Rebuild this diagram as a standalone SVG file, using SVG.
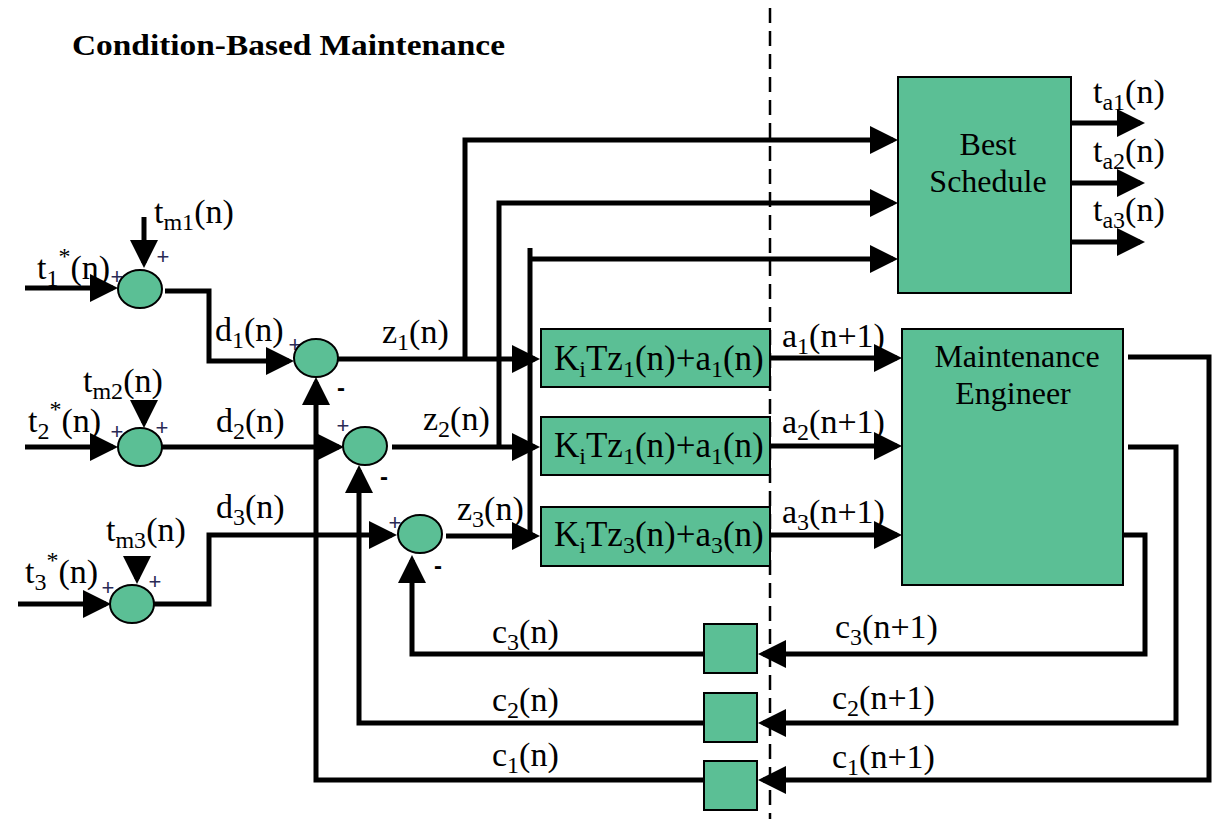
<svg xmlns="http://www.w3.org/2000/svg" width="1220" height="819" viewBox="0 0 1220 819">
<style>
.w{fill:none;stroke:#000;stroke-width:5;stroke-linejoin:miter}
.a{marker-end:url(#ah)}
.n{fill:#5bbf95;stroke:#000;stroke-width:2}
.t{font-family:'Liberation Serif','Times New Roman','DejaVu Serif',serif;font-size:34px;fill:#000}
.bt{font-family:'Liberation Serif','Times New Roman','DejaVu Serif',serif;font-size:35px;fill:#000}
.nt{font-family:'Liberation Serif','Times New Roman','DejaVu Serif',serif;font-size:32px;fill:#000;text-anchor:middle}
.s{font-size:24px}
.p{font-family:'Liberation Sans',sans-serif;font-size:22px;fill:#2a2a55;text-anchor:middle}
.m{font-family:'Liberation Sans',sans-serif;font-size:24px;font-weight:bold;fill:#000;text-anchor:middle}
</style>
<defs>
<marker id="ah" viewBox="0 0 28 28" markerUnits="userSpaceOnUse" markerWidth="28" markerHeight="28" refX="23" refY="14" orient="auto">
<path d="M0,0 L28,14 L0,28 Z" fill="#000"/>
</marker>
</defs>
<rect width="1220" height="819" fill="#fff"/>
<text id="title" x="72" y="55" style="font-family:'Liberation Serif','Times New Roman','DejaVu Serif',serif" font-size="30" font-weight="bold" textLength="433" lengthAdjust="spacingAndGlyphs">Condition-Based Maintenance</text>

<g id="connectors">
<path class="w a" d="M25,288 H113"/>
<path class="w a" d="M144,217 V263"/>
<path class="w a" d="M25,447 H113"/>
<path class="w a" d="M144,401 V423"/>
<path class="w a" d="M137,557 V579"/>
<path class="w a" d="M18,604 H106"/>
<path class="w a" d="M165,291 H209 V361 H289"/>
<path class="w a" d="M162,447 H339"/>
<path class="w a" d="M154,604 H209 V535 H392"/>
<path class="w a" d="M338,359 H535"/>
<path class="w a" d="M392,447 H535"/>
<path class="w a" d="M446,536 H535"/>
<path class="w a" d="M465,360 V140 H893"/>
<path class="w a" d="M499,447 V203 H893"/>
<path class="w" d="M530,537 V248"/>
<path class="w a" d="M530,259 H893"/>
<path class="w a" d="M770,358 H897"/>
<path class="w a" d="M770,446 H897"/>
<path class="w a" d="M770,535 H897"/>
<path class="w a" d="M1071,123 H1140"/>
<path class="w a" d="M1071,183 H1140"/>
<path class="w a" d="M1071,242 H1140"/>
<path class="w a" d="M1128,357 H1209 V780 H763"/>
<path class="w a" d="M1128,447 H1176 V723 H763"/>
<path class="w a" d="M1123,535 H1145 V654 H763"/>
<path class="w a" d="M704,654 H412 V560"/>
<path class="w a" d="M704,723 H359 V470"/>
<path class="w a" d="M704,780 H316 V382"/>
<path d="M770,8 V819" fill="none" stroke="#000" stroke-width="2.5" stroke-dasharray="15 8"/>

<text class="t" x="154" y="223">t<tspan class="s" dy="7">m1</tspan><tspan dy="-7">(n)</tspan></text>
<text class="t" x="37" y="279">t<tspan class="s" dy="7">1</tspan><tspan class="s" dy="-22">*</tspan><tspan dy="15">(n)</tspan></text>
<text class="t" x="215" y="341">d<tspan class="s" dy="7">1</tspan><tspan dy="-7">(n)</tspan></text>
<text class="t" x="83" y="392">t<tspan class="s" dy="7">m2</tspan><tspan dy="-7">(n)</tspan></text>
<text class="t" x="28" y="432">t<tspan class="s" dy="7">2</tspan><tspan class="s" dy="-22">*</tspan><tspan dy="15">(n)</tspan></text>
<text class="t" x="216" y="432">d<tspan class="s" dy="7">2</tspan><tspan dy="-7">(n)</tspan></text>
<text class="t" x="106" y="541">t<tspan class="s" dy="7">m3</tspan><tspan dy="-7">(n)</tspan></text>
<text class="t" x="216" y="518">d<tspan class="s" dy="7">3</tspan><tspan dy="-7">(n)</tspan></text>
<text class="t" x="25" y="583">t<tspan class="s" dy="7">3</tspan><tspan class="s" dy="-22">*</tspan><tspan dy="15">(n)</tspan></text>
<text class="t" x="382" y="343">z<tspan class="s" dy="7">1</tspan><tspan dy="-7">(n)</tspan></text>
<text class="t" x="423" y="430">z<tspan class="s" dy="7">2</tspan><tspan dy="-7">(n)</tspan></text>
<text class="t" x="457" y="520">z<tspan class="s" dy="7">3</tspan><tspan dy="-7">(n)</tspan></text>
<text class="t" x="782" y="347">a<tspan class="s" dy="7">1</tspan><tspan dy="-7">(n+1)</tspan></text>
<text class="t" x="782" y="433">a<tspan class="s" dy="7">2</tspan><tspan dy="-7">(n+1)</tspan></text>
<text class="t" x="782" y="523">a<tspan class="s" dy="7">3</tspan><tspan dy="-7">(n+1)</tspan></text>
<text class="t" x="1093" y="103">t<tspan class="s" dy="7">a1</tspan><tspan dy="-7">(n)</tspan></text>
<text class="t" x="1093" y="162">t<tspan class="s" dy="7">a2</tspan><tspan dy="-7">(n)</tspan></text>
<text class="t" x="1093" y="221">t<tspan class="s" dy="7">a3</tspan><tspan dy="-7">(n)</tspan></text>
<text class="t" x="492" y="643">c<tspan class="s" dy="7">3</tspan><tspan dy="-7">(n)</tspan></text>
<text class="t" x="492" y="711">c<tspan class="s" dy="7">2</tspan><tspan dy="-7">(n)</tspan></text>
<text class="t" x="492" y="766">c<tspan class="s" dy="7">1</tspan><tspan dy="-7">(n)</tspan></text>
<text class="t" x="835" y="638">c<tspan class="s" dy="7">3</tspan><tspan dy="-7">(n+1)</tspan></text>
<text class="t" x="832" y="709">c<tspan class="s" dy="7">2</tspan><tspan dy="-7">(n+1)</tspan></text>
<text class="t" x="832" y="768">c<tspan class="s" dy="7">1</tspan><tspan dy="-7">(n+1)</tspan></text>

<text class="p" x="117" y="284">+</text>
<text class="p" x="163" y="264">+</text>
<text class="p" x="295" y="352">+</text>
<text class="p" x="117" y="439">+</text>
<text class="p" x="162" y="435">+</text>
<text class="p" x="343" y="433">+</text>
<text class="p" x="108" y="595">+</text>
<text class="p" x="155" y="589">+</text>
<text class="p" x="395" y="530">+</text>
<text class="m" x="341" y="396">-</text>
<text class="m" x="384" y="485">-</text>
<text class="m" x="438" y="574">-</text>
</g>

<g id="sum1"><ellipse class="n" cx="140" cy="289" rx="22" ry="19"/></g>
<g id="sum2"><ellipse class="n" cx="140" cy="447" rx="22" ry="19"/></g>
<g id="sum3"><ellipse class="n" cx="132" cy="604" rx="22" ry="19"/></g>
<g id="sum4"><ellipse class="n" cx="316" cy="358" rx="22" ry="19"/></g>
<g id="sum5"><ellipse class="n" cx="365" cy="446" rx="22" ry="19"/></g>
<g id="sum6"><ellipse class="n" cx="420" cy="534" rx="22" ry="19"/></g>

<g id="gain1"><rect class="n" x="541" y="329" width="229" height="58"/>
<text class="bt" x="554" y="370">K<tspan class="s" dy="7">i</tspan><tspan dy="-7">Tz</tspan><tspan class="s" dy="7">1</tspan><tspan dy="-7">(n)+a</tspan><tspan class="s" dy="7">1</tspan><tspan dy="-7">(n)</tspan></text></g>
<g id="gain2"><rect class="n" x="541" y="417" width="229" height="58"/>
<text class="bt" x="554" y="457">K<tspan class="s" dy="7">i</tspan><tspan dy="-7">Tz</tspan><tspan class="s" dy="7">1</tspan><tspan dy="-7">(n)+a</tspan><tspan class="s" dy="7">1</tspan><tspan dy="-7">(n)</tspan></text></g>
<g id="gain3"><rect class="n" x="541" y="507" width="229" height="59"/>
<text class="bt" x="554" y="546">K<tspan class="s" dy="7">i</tspan><tspan dy="-7">Tz</tspan><tspan class="s" dy="7">3</tspan><tspan dy="-7">(n)+a</tspan><tspan class="s" dy="7">3</tspan><tspan dy="-7">(n)</tspan></text></g>

<g id="bestSchedule"><rect class="n" x="898" y="77" width="173" height="216"/>
<text class="nt" x="988" y="155">Best</text>
<text class="nt" x="988" y="192">Schedule</text></g>

<g id="maintenanceEngineer"><rect class="n" x="902" y="329" width="221" height="256"/>
<text class="nt" x="1017" y="367">Maintenance</text>
<text class="nt" x="1013" y="404">Engineer</text></g>

<g id="delay3"><rect class="n" x="704" y="624" width="53" height="49"/></g>
<g id="delay2"><rect class="n" x="704" y="693" width="53" height="49"/></g>
<g id="delay1"><rect class="n" x="704" y="761" width="53" height="49"/></g>
</svg>
